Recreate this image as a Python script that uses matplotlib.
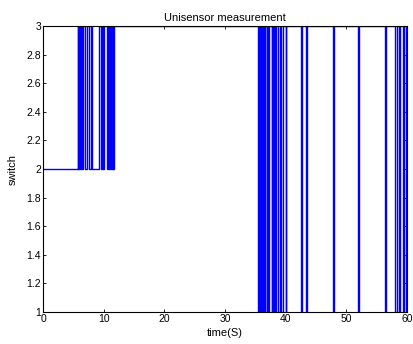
import matplotlib
matplotlib.use("Agg")
import matplotlib.pyplot as plt

# switching instants (s) and the level held after each instant
t_switch = [0.0,
            5.7, 5.8, 5.95, 6.05, 6.2, 6.4, 6.6, 6.9, 7.3, 7.5, 7.9, 8.1,
            9.3, 9.6, 9.8, 9.9, 10.1, 10.5, 10.7, 10.85, 10.95, 11.1, 11.2,
            11.35, 11.45, 11.6, 11.7,
            35.5, 35.6, 35.7, 35.8, 35.9, 36.0, 36.1, 36.2, 36.3, 36.4, 36.5,
            36.6, 36.85, 36.95, 37.1, 37.3, 37.7, 37.8, 37.95, 38.05, 38.2,
            38.4, 38.8, 39.0, 39.3, 39.6, 40.0, 40.1,
            42.5, 42.7, 43.3, 43.5, 47.8, 48.0, 51.9, 52.1, 56.3, 56.5,
            58.1, 58.3, 58.7, 58.9, 59.35, 59.5, 59.8, 59.95, 60.0]
level = [2,
         3, 2, 3, 2, 3, 2, 3, 2, 3, 2, 3, 2,
         3, 2, 3, 2, 3, 2, 3, 2, 3, 2, 3,
         2, 3, 2, 3,
         1, 3, 1, 3, 1, 3, 1, 3, 1, 3, 1,
         3, 1, 3, 1, 3, 1, 3, 1, 3, 1,
         3, 1, 3, 1, 3, 1, 3,
         1, 3, 1, 3, 1, 3, 1, 3, 1, 3,
         1, 3, 1, 3, 1, 3, 1, 3, 3]

plt.rcParams['font.family'] = ['Liberation Sans', 'DejaVu Sans']
plt.rcParams['font.size'] = 7.5

fig = plt.figure(figsize=(4.14, 3.44), dpi=100)
ax = fig.add_axes([0.104, 0.093, 0.879, 0.831])
ax.plot(t_switch, level, color='#0000ff', lw=1.0, drawstyle='steps-post')

ax.set_xlim(0, 60)
ax.set_ylim(1, 3)
ax.set_xticks(range(0, 61, 10))
yt = [1, 1.2, 1.4, 1.6, 1.8, 2, 2.2, 2.4, 2.6, 2.8, 3]
ax.set_yticks(yt)
ax.set_yticklabels(['1', '1.2', '1.4', '1.6', '1.8', '2', '2.2', '2.4', '2.6', '2.8', '3'])
ax.tick_params(direction='in', top=True, right=True, length=2.5, width=0.6, pad=1.5)
for s in ax.spines.values():
    s.set_linewidth(0.8)

ax.set_title('Unisensor measurement', fontsize=8, pad=4)
ax.set_xlabel('time(S)', fontsize=8, labelpad=2.5)
ax.set_ylabel('switch', fontsize=8, labelpad=6)

fig.savefig('out.png', dpi=100)
